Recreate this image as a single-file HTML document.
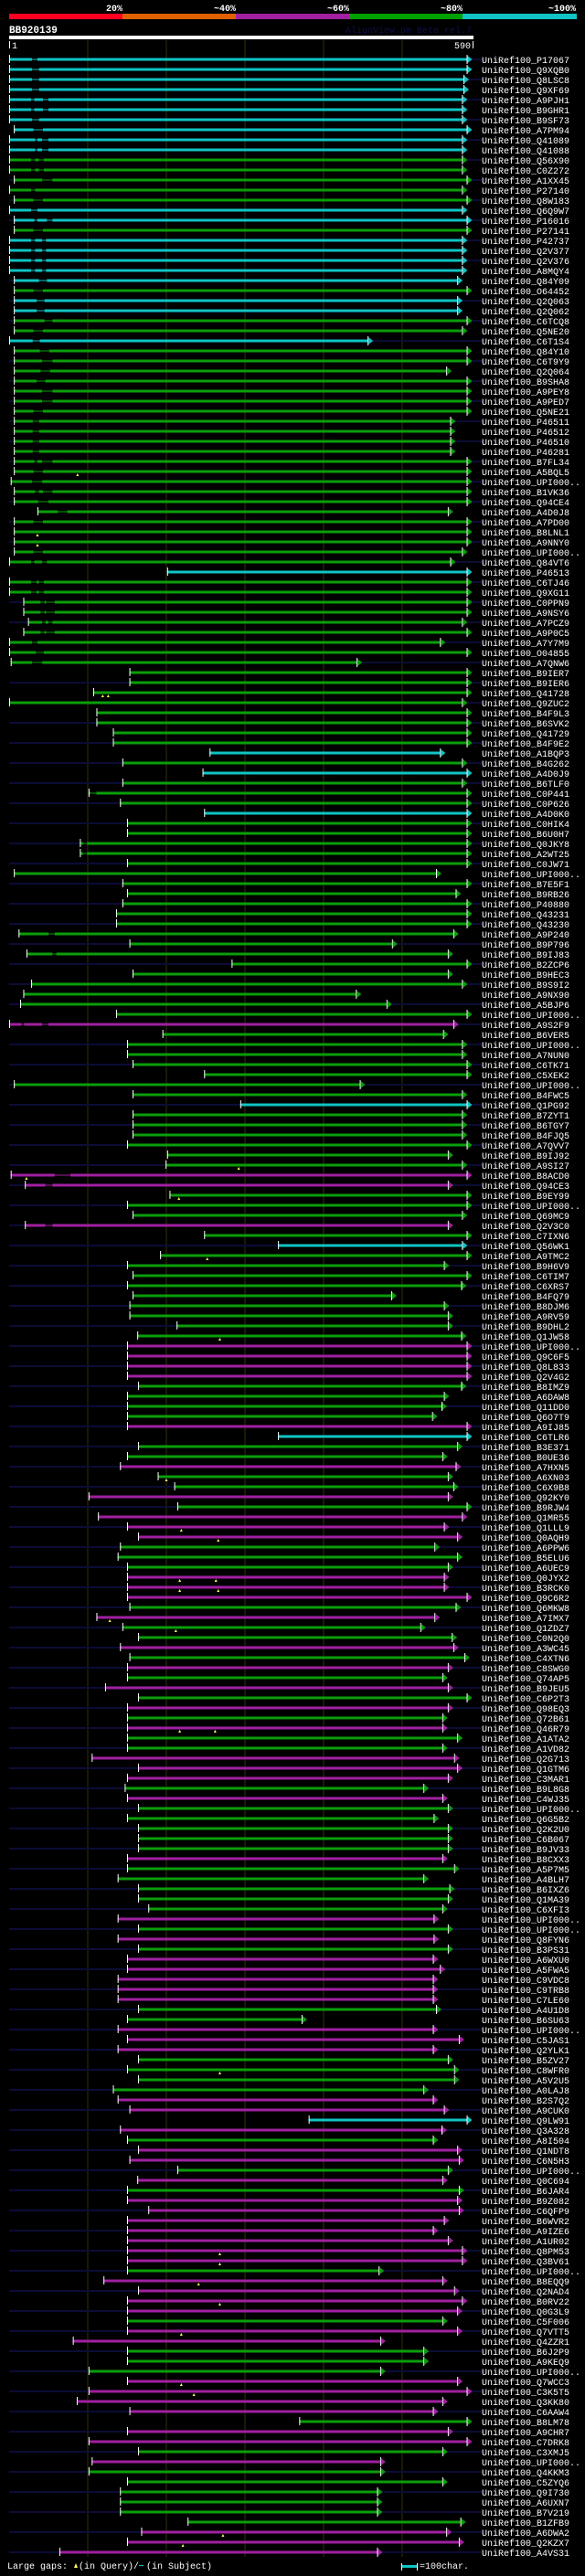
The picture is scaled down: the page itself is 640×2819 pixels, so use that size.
<!DOCTYPE html>
<html><head><meta charset="utf-8">
<style>
html,body{margin:0;padding:0;background:#000;}
svg{display:block;}
text{font-family:"Liberation Mono","DejaVu Sans Mono",monospace;}
</style></head>
<body>
<svg id="chart" width="640" height="2819" viewBox="0 0 640 2819" xmlns="http://www.w3.org/2000/svg">
<rect x="0" y="0" width="640" height="2819" fill="#000"/>
<g>
<rect x="10" y="15" width="124" height="6" fill="#ff0020"/>
<rect x="134" y="15" width="124" height="6" fill="#e06000"/>
<rect x="258" y="15" width="124" height="6" fill="#a020a0"/>
<rect x="382" y="15" width="124" height="6" fill="#00a000"/>
<rect x="506" y="15" width="125" height="6" fill="#10c4c4"/>
<text x="134" y="12" fill="#fff" font-size="10" font-weight="bold" text-anchor="end">20%</text>
<text x="258" y="12" fill="#fff" font-size="10" font-weight="bold" text-anchor="end">~40%</text>
<text x="382" y="12" fill="#fff" font-size="10" font-weight="bold" text-anchor="end">~60%</text>
<text x="506" y="12" fill="#fff" font-size="10" font-weight="bold" text-anchor="end">~80%</text>
<text x="630" y="12" fill="#fff" font-size="10" font-weight="bold" text-anchor="end">~100%</text>
</g>
<text x="10" y="36" fill="#fff" font-size="11" font-weight="bold">BB920139</text>
<text x="516" y="36" fill="#10104a" font-size="10" text-anchor="end">AlignView.pm Beta rel.7</text>
<rect x="10" y="39" width="508" height="4" fill="#fff"/>
<rect x="10" y="45" width="1" height="8" fill="#fff"/>
<text x="13" y="53" fill="#fff" font-size="10">1</text>
<rect x="517" y="45" width="1" height="8" fill="#fff"/>
<text x="515" y="53" fill="#fff" font-size="10" text-anchor="end">590</text>
<g id="grid"></g>
<g id="rows"></g>
<g>
<text x="8" y="2811" fill="#fff" font-size="10">Large gaps:</text>
<polygon points="81,2810 83,2805 85,2810" fill="#ffff60"/>
<text x="86" y="2811" fill="#fff" font-size="10">(in Query)/</text>
<rect x="152" y="2807" width="5" height="1" fill="#10c4c4"/>
<text x="160" y="2811" fill="#fff" font-size="10">(in Subject)</text>
<rect x="439" y="2805" width="1" height="8" fill="#fff"/>
<rect x="440" y="2807" width="16" height="3" fill="#10c4c4"/>
<rect x="456" y="2805" width="1" height="8" fill="#fff"/>
<text x="459" y="2811" fill="#fff" font-size="10">=100char.</text>
</g>
</svg>
<script>
const labels = ["P17067","Q9XQB0","Q8LSC8","Q9XF69","A9PJH1","B9GHR1","B9SF73","A7PM94","Q41089","Q41088","Q56X90","C0Z272","A1XX45","P27140","Q8W183","Q6Q9W7","P16016","P27141","P42737","Q2V377","Q2V376","A8MQY4","Q84Y09","O64452","Q2Q063","Q2Q062","C6TCQ8","Q5NE20","C6T1S4","Q84Y10","C6T9Y9","Q2Q064","B9SHA8","A9PEY8","A9PED7","Q5NE21","P46511","P46512","P46510","P46281","B7FL34","A5BQL5","UPI000..","B1VK36","Q94CE4","A4D0J8","A7PD00","B8LNL1","A9NNY0","UPI000..","Q84VT6","P46513","C6TJ46","Q9XG11","C0PPN9","A9NSY6","A7PCZ9","A9P0C5","A7Y7M9","O04855","A7QNW6","B9IER7","B9IER6","Q41728","Q9ZUC2","B4F9L3","B6SVK2","Q41729","B4F9E2","A1BQP3","B4G262","A4D0J9","B6TLF0","C0P441","C0P626","A4D0K0","C0HIK4","B6U0H7","Q0JKY8","A2WT25","C0JW71","UPI000..","B7E5F1","B9RB26","P40880","Q43231","Q43230","A9P240","B9P796","B9IJ83","B2ZCP6","B9HEC3","B9S9I2","A9NX90","A5BJP6","UPI000..","A9S2F9","B6VER5","UPI000..","A7NUN0","C6TK71","C5XEK2","UPI000..","B4FWC5","Q1PG92","B7ZYT1","B6TGY7","B4FJQ5","A7QVV7","B9IJ92","A9SI27","B8ACD0","Q94CE3","B9EY99","UPI000..","Q69MC9","Q2V3C0","C7IXN6","Q56WK1","A9TMC2","B9H6V9","C6TIM7","C6XRS7","B4FQ79","B8DJM6","A9RV59","B9DHL2","Q1JW58","UPI000..","Q9C6F5","Q8L833","Q2V4G2","B8IMZ9","A6DAW8","Q11DD0","Q6O7T9","A9IJ85","C6TLR6","B3E371","B0UE36","A7HXN5","A6XN03","C6X9B8","Q92KY0","B9RJW4","Q1MR55","Q1LLL9","Q0AQH9","A6PPW6","B5ELU6","A6UEC9","Q0JYX2","B3RCK0","Q9C6R2","Q6MKW8","A7IMX7","Q1ZDZ7","C0N2Q0","A3WC45","C4XTN6","C8SWG0","Q74AP5","B9JEU5","C6P2T3","Q98EQ3","Q72B61","Q46R79","A1ATA2","A1VD82","Q2G713","Q1GTM6","C3MAR1","B9L8G8","C4WJ35","UPI000..","Q6G5B2","Q2K2U0","C6B067","B9JV33","B8CXX3","A5P7M5","A4BLH7","B6IXZ6","Q1MA39","C6XFI3","UPI000..","UPI000..","Q8FYN6","B3PS31","A6WXU0","A5FWA5","C9VDC8","C9TRB8","C7LE60","A4U1D8","B6SU63","UPI000..","C5JAS1","Q2YLK1","B5ZV27","C8WFR0","A5V2U5","A0LAJ8","B2S7Q2","A9CUK0","Q9LW91","Q3A328","A8I504","Q1NDT8","C6N5H3","UPI000..","Q0C694","B6JAR4","B9Z082","C6QFP9","B6WVR2","A9IZE6","A1UR02","Q8PM53","Q3BV61","UPI000..","B8EQQ9","Q2NAD4","B0RV22","Q0G3L9","C5F006","Q7VTT5","Q4ZZR1","B6J2P9","A9KEQ9","UPI000..","Q7WCC3","C3K5T5","Q3KK80","C6AAW4","B8LM78","A9CHR7","C7DRK8","C3XMJ5","UPI000..","Q4KKM3","C5ZYQ6","Q9I730","A6UXN7","B7V219","B1ZFB9","A6DWA2","Q2KZX7","A4VS31"];
const starts = [0,0,0,0,0,0,0,6,0,0,0,0,6,0,6,0,6,6,0,0,0,0,6,6,6,6,6,6,0,6,6,6,6,6,6,6,6,6,6,6,6,6,2,6,6,36,6,6,6,6,0,201,0,0,18,18,24,18,0,0,2,153,153,107,0,111,111,132,132,255,144,246,144,101,141,248,150,150,90,90,150,6,144,150,144,136,136,12,153,22,283,157,28,18,14,136,0,195,150,150,157,248,6,157,294,157,157,157,150,201,199,2,20,204,150,157,20,248,342,192,150,157,150,157,153,153,213,163,150,150,150,150,164,150,150,150,150,342,164,150,141,189,210,101,214,113,150,164,141,138,150,150,150,150,153,111,144,164,141,153,150,150,122,164,150,150,150,150,150,105,164,150,147,150,164,150,164,164,164,150,150,138,164,164,177,138,164,138,164,150,150,138,138,138,164,150,138,150,138,164,150,164,132,138,153,381,141,150,164,153,214,163,150,150,177,150,150,150,150,150,150,120,164,150,150,150,150,81,150,150,101,150,101,86,153,369,150,101,164,105,101,150,141,141,141,227,168,150,64];
const ends = [582,582,578,578,576,576,576,582,576,576,576,576,582,576,582,576,582,582,576,576,576,576,570,582,570,570,582,576,456,582,582,556,582,582,582,582,561,561,561,561,582,582,582,582,582,558,582,582,582,576,561,582,582,582,582,582,576,582,548,582,442,582,582,582,576,582,582,582,582,548,576,582,576,582,582,582,582,582,582,582,582,543,582,568,582,582,582,565,487,558,582,558,576,441,480,582,565,552,576,576,582,582,446,576,582,576,576,576,582,558,576,582,558,582,582,576,558,582,576,582,553,582,575,486,553,558,558,575,582,582,582,582,575,553,550,538,582,582,570,551,568,558,565,558,582,576,553,570,541,570,558,553,553,582,568,541,523,563,565,579,558,551,558,582,558,551,551,570,551,566,570,558,527,551,558,540,558,558,558,551,566,527,560,558,551,540,558,540,558,539,548,539,539,539,543,372,539,572,539,558,566,566,527,539,553,582,550,539,570,572,558,551,572,570,572,553,539,558,576,576,470,551,566,576,570,551,570,472,527,527,472,570,582,551,539,582,558,582,551,472,472,551,468,468,468,574,556,572,468];
const colorCodes = ("cccccccccc" + "gggggccgcccccgccggc" + "gggggggggggggggggggggg" + "c" +
 "ggggggggggggggggg" + "cgcgggc" + "gggggggggggggggggggg" + "mgggggggcgggggg" + "mmgggmgc" +
 "ggggggggg" + "mmmm" + "gggg" + "mcggmggmgmmmgggmmmgmggmgmgmgmgmggmmmgm" +
 "gggggmgggggmgmg" + "mmmmmggmmmggggmmcmgmmgmgmmm" + "mmmmgmmmmgmmgggmmmmgmmgmggggggmmm").split("");
const navyLeftRows = [12,14,16,22,24,26,30,32,34,36,38,40,44,46,48,54,56,62,66,68,70,72,74,76,78,80,82,84,86,88,90,92,94,98,100,102,104,106,108,110,112,114,116,118,120,122,124,126,128,130,132,134,136,138,140,142,144,146,148,150,152,154,156,158,160,162,164,166,168,170,172,174,176,178,180,182,184,186,188,190,192,194,196,198,200,202,204,206,208,210,212,214,216,218,220,222,224,226,228,230,232,234,236,238,240,242,244,246,248];
const navyRightRows = [0,2,4,6,8,10,12,14,16,18,20,24,26,28,30,32,34,36,38,40,42,44,46,48,50,52,54,56,58,60,62,64,66,68,70,72,74,76,78,80,82,84,86,88,90,92,94,96,98,100,102,104,106,108,110,112,114,118,120,122,124,126,128,130,132,134,136,138,140,142,144,146,148,150,152,154,156,158,160,162,164,166,168,170,172,174,176,178,180,182,184,186,188,190,192,194,196,198,200,202,204,206,208,210,212,214,216,218,220,222,224,226,228,230,232,234,236,238,240,242,244,246,248];
const gapRows = [0,1,2,3,4,4,5,5,6,7,8,8,9,9,10,10,11,11,12,13,14,15,16,16,17,18,18,19,19,20,20,21,21,22,23,24,25,26,27,28,29,30,31,32,33,34,35,36,37,38,39,40,40,41,42,43,43,44,45,46,49,50,50,52,52,53,53,54,54,55,55,56,56,57,57,58,59,60,73,78,79,87,89,96,96,111,112,116];
const gapStarts = [29,29,29,29,28,43,28,43,29,31,33,42,33,42,28,38,28,38,42,28,31,28,32,48,31,28,42,28,42,28,42,28,42,38,31,35,35,45,31,30,39,42,40,35,42,42,31,30,30,30,30,32,42,31,29,33,43,37,62,31,31,28,42,28,38,28,38,40,47,40,47,42,50,40,47,29,34,29,103,94,94,50,55,16,42,58,46,46];
const gapEnds = [36,38,38,38,32,50,32,50,38,43,36,50,36,50,33,44,33,44,55,33,43,36,36,55,43,33,47,33,47,33,47,33,47,48,43,45,45,55,43,39,51,55,52,46,55,55,43,38,38,38,38,36,55,43,42,38,55,50,74,43,43,32,48,35,44,35,44,45,58,45,58,46,55,45,58,36,44,42,111,99,99,58,60,19,50,78,55,55];
const markerRows = [41,47,48,63,63,110,111,113,119,127,141,146,147,151,151,152,152,155,156,166,166,200,218,219,221,223,226,231,232,246,247];
const markerPos = [87,36,36,119,126,292,22,216,252,268,200,219,266,217,263,217,266,128,212,217,262,268,268,268,241,268,219,219,235,272,221];

const COLORS = {c:"#10c4c4", g:"#0a9e0a", m:"#a020a0"};
const NS = "http://www.w3.org/2000/svg";
function xOf(aa){ return 10 + aa*0.86; }
function yOf(i){ return 65 + 11*i; }
function mk(tag, attrs, parent){ const e=document.createElementNS(NS,tag); for(const k in attrs) e.setAttribute(k,attrs[k]); parent.appendChild(e); return e; }

const grid = document.getElementById('grid');
const gridTicks = [100,200,300,400,500];
gridTicks.forEach(function(t){
  const l = mk('rect',{x:xOf(t)-0.5,y:44,width:1,height:2754,fill:'#30300a'},grid);
  
  
});

const rowsG = document.getElementById('rows');
const gapsByRow = {};
gapRows.forEach(function(r,k){ (gapsByRow[r]=gapsByRow[r]||[]).push([gapStarts[k],gapEnds[k]]); });
const leftSet = new Set(navyLeftRows), rightSet = new Set(navyRightRows);

labels.forEach(function(lab,i){
  const y = yOf(i);
  const col = COLORS[colorCodes[i]] || COLORS.g;
  const s = xOf(starts[i]), e = xOf(ends[i]);
  const g = mk('g',{},rowsG);
  
  
  if(leftSet.has(i) && s>12){
    const nl = mk('rect',{x:10,y:y-1,width:s-10,height:2,fill:'#0c0c36'},g);
    
    
  }
  if(rightSet.has(i)){
    const nr = mk('rect',{x:e,y:y-1,width:527-e,height:2,fill:'#0c0c36'},g);
    
    
  }
  let segs = [[starts[i],ends[i]]];
  (gapsByRow[i]||[]).forEach(function(gp){
    const out=[];
    segs.forEach(function(sg){
      if(gp[0]>sg[0] && gp[1]<sg[1]){ out.push([sg[0],gp[0]]); out.push([gp[1],sg[1]]); } else out.push(sg);
    });
    segs = out;
    const gl = mk('rect',{x:xOf(gp[0]),y:y-0.5,width:xOf(gp[1])-xOf(gp[0]),height:1,fill:col},g);
    
    
  });
  segs.forEach(function(sg){
    const b = mk('rect',{x:xOf(sg[0]),y:y-1.5,width:xOf(sg[1])-xOf(sg[0]),height:3,fill:col},g);
    
    
  });
  const st = mk('rect',{x:s,y:y-5,width:1,height:9,fill:'#fff'},g);
  
  
  const et = mk('rect',{x:e,y:y-5,width:1,height:10,fill:'#fff'},g);
  
  
  const ar = mk('polygon',{points:(e+1)+','+(y-4)+' '+(e+6)+','+y+' '+(e+1)+','+(y+4),fill:col},g);
  
  
  const t = mk('text',{x:527,y:y+4,fill:'#fff','font-size':10},g);
  t.textContent = 'UniRef100_'+lab;
  
  
});

markerRows.forEach(function(r,k){
  const x = xOf(markerPos[k]), y = yOf(r);
  const m = mk('polygon',{points:(x-1.5)+','+(y+5)+' '+x+','+(y+2)+' '+(x+1.5)+','+(y+5),fill:'#ffff60'},rowsG);
  
  
});
</script>
</body></html>
